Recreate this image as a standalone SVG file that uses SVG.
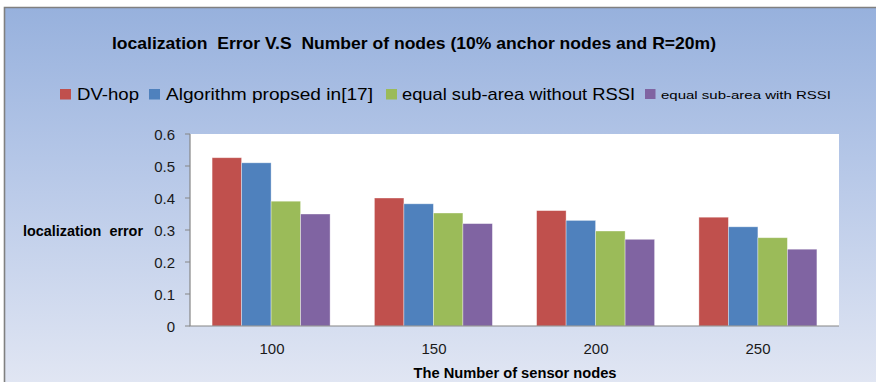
<svg xmlns="http://www.w3.org/2000/svg" width="876" height="382" viewBox="0 0 876 382">
  <defs>
    <linearGradient id="bg" x1="0" y1="0" x2="0" y2="1">
      <stop offset="0" stop-color="#97B1DD"/>
      <stop offset="0.4" stop-color="#B4C6E7"/>
      <stop offset="1" stop-color="#E1E6F3"/>
    </linearGradient>
  </defs>
  <style>
    text { font-family: "Liberation Sans", Arial, sans-serif; fill: #000; }
    .title { font-weight: bold; font-size: 16.5px; white-space: pre; }
    .leg { font-size: 17px; }
    .legs { font-size: 11.5px; }
    .tick { font-size: 15px; fill: #1a1a1a; }
    .axt { font-weight: bold; font-size: 14px; white-space: pre; }
    .r { fill: #C0504D; }
    .b { fill: #4F81BD; }
    .g { fill: #9BBB59; }
    .p { fill: #8064A2; }
    .bar { stroke: #ffffff; stroke-opacity: 0.45; stroke-width: 0.8; }
    .axis { stroke: #868686; stroke-width: 1.2; fill: none; }
  </style>
  <rect x="0" y="0" width="876" height="382" fill="#ffffff"/>
  <g id="chart-area">
    <rect x="4" y="7.5" width="872" height="376" fill="url(#bg)"/>
    <path d="M4.5 382 V7.5 H876" fill="none" stroke="#808080" stroke-width="1.6"/>
  </g>
  <g id="title">
    <text class="title" x="112" y="48.5" textLength="604" lengthAdjust="spacingAndGlyphs" xml:space="preserve">localization  Error V.S  Number of nodes (10% anchor nodes and R=20m)</text>
  </g>
  <g id="legend">
    <rect class="r" x="60" y="89" width="11" height="10.5"/>
    <text class="leg" x="77" y="99.5" textLength="62" lengthAdjust="spacingAndGlyphs">DV-hop</text>
    <rect class="b" x="149" y="89" width="11" height="10.5"/>
    <text class="leg" x="166" y="99.5" textLength="207" lengthAdjust="spacingAndGlyphs">Algorithm propsed in[17]</text>
    <rect class="g" x="386" y="89" width="11" height="10.5"/>
    <text class="leg" x="402" y="99.5" textLength="233" lengthAdjust="spacingAndGlyphs">equal sub-area without RSSI</text>
    <rect class="p" x="645" y="89" width="10.5" height="10"/>
    <text class="legs" x="661" y="98.8" textLength="170" lengthAdjust="spacingAndGlyphs">equal sub-area with RSSI</text>
  </g>
  <g id="plot-area">
    <rect x="190" y="134" width="649" height="192" fill="#ffffff"/>
  </g>
  <g id="bars">
    <g id="cat-100">
      <rect class="bar r" x="212.1" y="157.7" width="29.5" height="168.3"/>
      <rect class="bar b" x="241.6" y="162.8" width="29.5" height="163.2"/>
      <rect class="bar g" x="271.1" y="201.2" width="29.5" height="124.8"/>
      <rect class="bar p" x="300.6" y="214" width="29.5" height="112"/>
    </g>
    <g id="cat-150">
      <rect class="bar r" x="374.4" y="198" width="29.5" height="128"/>
      <rect class="bar b" x="403.9" y="203.8" width="29.5" height="122.2"/>
      <rect class="bar g" x="433.4" y="213" width="29.5" height="113"/>
      <rect class="bar p" x="462.9" y="223.6" width="29.5" height="102.4"/>
    </g>
    <g id="cat-200">
      <rect class="bar r" x="536.6" y="210.6" width="29.5" height="115.4"/>
      <rect class="bar b" x="566.1" y="220.4" width="29.5" height="105.6"/>
      <rect class="bar g" x="595.6" y="231" width="29.5" height="95"/>
      <rect class="bar p" x="625.1" y="239.3" width="29.5" height="86.7"/>
    </g>
    <g id="cat-250">
      <rect class="bar r" x="698.9" y="217.2" width="29.5" height="108.8"/>
      <rect class="bar b" x="728.4" y="226.8" width="29.5" height="99.2"/>
      <rect class="bar g" x="757.9" y="237.7" width="29.5" height="88.3"/>
      <rect class="bar p" x="787.4" y="249.2" width="29.5" height="76.8"/>
    </g>
  </g>
  <g id="axes">
    <path class="axis" d="M190 134 V326 H839"/>
    <path class="axis" d="M185 134 H190 M185 166 H190 M185 198 H190 M185 230 H190 M185 262 H190 M185 294 H190 M185 326 H190"/>
  </g>
  <g id="y-labels" text-anchor="end">
    <text class="tick" x="175" y="139.5">0.6</text>
    <text class="tick" x="175" y="171.5">0.5</text>
    <text class="tick" x="175" y="203.5">0.4</text>
    <text class="tick" x="175" y="235.5">0.3</text>
    <text class="tick" x="175" y="267.5">0.2</text>
    <text class="tick" x="175" y="299.5">0.1</text>
    <text class="tick" x="175" y="331.5">0</text>
  </g>
  <g id="x-labels" text-anchor="middle">
    <text class="tick" x="272" y="354">100</text>
    <text class="tick" x="434" y="354">150</text>
    <text class="tick" x="596" y="354">200</text>
    <text class="tick" x="758" y="354">250</text>
  </g>
  <g id="axis-titles">
    <text class="axt" x="23" y="235.5" textLength="120" lengthAdjust="spacingAndGlyphs" xml:space="preserve">localization  error</text>
    <text class="axt" x="413.5" y="377.5" font-size="15" textLength="203" lengthAdjust="spacingAndGlyphs">The Number of sensor nodes</text>
  </g>
</svg>
